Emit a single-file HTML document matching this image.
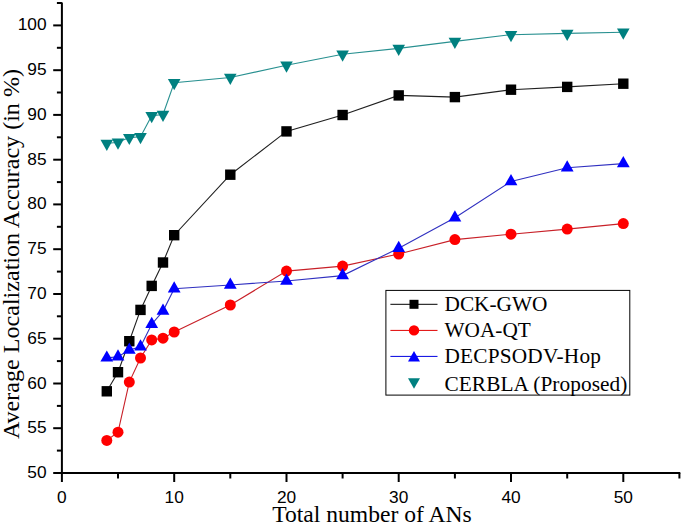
<!DOCTYPE html>
<html lang="en">
<head>
<meta charset="utf-8">
<title>Average Localization Accuracy vs Total number of ANs</title>
<style>
html,body{margin:0;padding:0;background:#ffffff;}
body{width:685px;height:524px;overflow:hidden;}
svg{display:block;}
.tick{font-family:"Liberation Sans",Arial,sans-serif;font-size:17.3px;fill:#000;}
.ttl{font-family:"Liberation Serif","Times New Roman",serif;font-size:23.6px;fill:#000;}
.ttly{font-family:"Liberation Serif","Times New Roman",serif;font-size:24.1px;fill:#000;}
.leg{font-family:"Liberation Serif","Times New Roman",serif;font-size:21.3px;fill:#000;}
</style>
</head>
<body>
<svg width="685" height="524" viewBox="0 0 685 524">
<rect x="0" y="0" width="685" height="524" fill="#ffffff"/>

<g stroke="#000" stroke-width="2" fill="none" stroke-linecap="butt">
<line x1="61.9" y1="2.5" x2="61.9" y2="474.0"/>
<line x1="60.9" y1="473.0" x2="680.3" y2="473.0"/>
<line x1="53.2" y1="473.0" x2="61.9" y2="473.0"/>
<line x1="56.9" y1="450.6" x2="61.9" y2="450.6"/>
<line x1="53.2" y1="428.2" x2="61.9" y2="428.2"/>
<line x1="56.9" y1="405.9" x2="61.9" y2="405.9"/>
<line x1="53.2" y1="383.5" x2="61.9" y2="383.5"/>
<line x1="56.9" y1="361.1" x2="61.9" y2="361.1"/>
<line x1="53.2" y1="338.7" x2="61.9" y2="338.7"/>
<line x1="56.9" y1="316.3" x2="61.9" y2="316.3"/>
<line x1="53.2" y1="294.0" x2="61.9" y2="294.0"/>
<line x1="56.9" y1="271.6" x2="61.9" y2="271.6"/>
<line x1="53.2" y1="249.2" x2="61.9" y2="249.2"/>
<line x1="56.9" y1="226.8" x2="61.9" y2="226.8"/>
<line x1="53.2" y1="204.4" x2="61.9" y2="204.4"/>
<line x1="56.9" y1="182.1" x2="61.9" y2="182.1"/>
<line x1="53.2" y1="159.7" x2="61.9" y2="159.7"/>
<line x1="56.9" y1="137.3" x2="61.9" y2="137.3"/>
<line x1="53.2" y1="114.9" x2="61.9" y2="114.9"/>
<line x1="56.9" y1="92.5" x2="61.9" y2="92.5"/>
<line x1="53.2" y1="70.2" x2="61.9" y2="70.2"/>
<line x1="56.9" y1="47.8" x2="61.9" y2="47.8"/>
<line x1="53.2" y1="25.4" x2="61.9" y2="25.4"/>
<line x1="56.9" y1="3.0" x2="61.9" y2="3.0"/>
<line x1="61.9" y1="473.0" x2="61.9" y2="482.0"/>
<line x1="118.0" y1="473.0" x2="118.0" y2="478.5"/>
<line x1="174.2" y1="473.0" x2="174.2" y2="482.0"/>
<line x1="230.3" y1="473.0" x2="230.3" y2="478.5"/>
<line x1="286.5" y1="473.0" x2="286.5" y2="482.0"/>
<line x1="342.6" y1="473.0" x2="342.6" y2="478.5"/>
<line x1="398.7" y1="473.0" x2="398.7" y2="482.0"/>
<line x1="454.9" y1="473.0" x2="454.9" y2="478.5"/>
<line x1="511.0" y1="473.0" x2="511.0" y2="482.0"/>
<line x1="567.2" y1="473.0" x2="567.2" y2="478.5"/>
<line x1="623.3" y1="473.0" x2="623.3" y2="482.0"/>
<line x1="679.4" y1="473.0" x2="679.4" y2="478.5"/>
</g>
<g class="tick" text-anchor="end">
<text x="46.6" y="478.0">50</text>
<text x="46.6" y="433.2">55</text>
<text x="46.6" y="388.5">60</text>
<text x="46.6" y="343.7">65</text>
<text x="46.6" y="299.0">70</text>
<text x="46.6" y="254.2">75</text>
<text x="46.6" y="209.4">80</text>
<text x="46.6" y="164.7">85</text>
<text x="46.6" y="119.9">90</text>
<text x="46.6" y="75.2">95</text>
<text x="46.6" y="30.4">100</text>
</g>
<g class="tick" text-anchor="middle">
<text x="61.9" y="502.5">0</text>
<text x="174.2" y="502.5">10</text>
<text x="286.5" y="502.5">20</text>
<text x="398.7" y="502.5">30</text>
<text x="511.0" y="502.5">40</text>
<text x="623.3" y="502.5">50</text>
</g>
<text class="ttl" x="272.2" y="522.2">Total number of ANs</text>
<text class="ttly" transform="translate(19.1,439.1) rotate(-90)">Average Localization Accuracy (in %)</text>
<polyline points="106.8,391.3 118.0,372.2 129.3,341.2 140.5,309.9 151.7,285.9 163.0,262.5 174.2,235.2 230.3,174.7 286.5,131.4 342.6,115.0 398.7,95.4 454.9,97.1 511.0,89.7 567.2,86.9 623.3,83.7" fill="none" stroke="#202020" stroke-width="1.1"/>
<polyline points="106.8,440.4 118.0,432.2 129.3,382.1 140.5,358.0 151.7,339.9 163.0,338.2 174.2,332.0 230.3,305.0 286.5,271.1 342.6,266.1 398.7,254.0 454.9,239.6 511.0,234.2 567.2,229.1 623.3,223.6" fill="none" stroke="#c82028" stroke-width="1.1"/>
<polyline points="106.8,357.9 118.0,356.7 129.3,350.0 140.5,346.8 151.7,324.2 163.0,311.1 174.2,288.7 230.3,285.0 286.5,281.0 342.6,275.6 398.7,248.2 454.9,217.8 511.0,181.5 567.2,167.8 623.3,163.6" fill="none" stroke="#3030c0" stroke-width="1.1"/>
<polyline points="106.8,143.5 118.0,142.3 129.3,137.6 140.5,136.8 151.7,115.7 163.0,114.5 174.2,82.7 230.3,77.5 286.5,65.2 342.6,54.3 398.7,48.4 454.9,41.4 511.0,34.7 567.2,33.4 623.3,32.2" fill="none" stroke="#289090" stroke-width="1.1"/>
<rect x="101.6" y="386.1" width="10.4" height="10.4" fill="#000"/>
<rect x="112.8" y="367.0" width="10.4" height="10.4" fill="#000"/>
<rect x="124.1" y="336.0" width="10.4" height="10.4" fill="#000"/>
<rect x="135.3" y="304.7" width="10.4" height="10.4" fill="#000"/>
<rect x="146.5" y="280.7" width="10.4" height="10.4" fill="#000"/>
<rect x="157.8" y="257.3" width="10.4" height="10.4" fill="#000"/>
<rect x="169.0" y="230.0" width="10.4" height="10.4" fill="#000"/>
<rect x="225.1" y="169.5" width="10.4" height="10.4" fill="#000"/>
<rect x="281.3" y="126.2" width="10.4" height="10.4" fill="#000"/>
<rect x="337.4" y="109.8" width="10.4" height="10.4" fill="#000"/>
<rect x="393.5" y="90.2" width="10.4" height="10.4" fill="#000"/>
<rect x="449.7" y="91.9" width="10.4" height="10.4" fill="#000"/>
<rect x="505.8" y="84.5" width="10.4" height="10.4" fill="#000"/>
<rect x="562.0" y="81.7" width="10.4" height="10.4" fill="#000"/>
<rect x="618.1" y="78.5" width="10.4" height="10.4" fill="#000"/>
<circle cx="106.8" cy="440.4" r="5.5" fill="#ff0000"/>
<circle cx="118.0" cy="432.2" r="5.5" fill="#ff0000"/>
<circle cx="129.3" cy="382.1" r="5.5" fill="#ff0000"/>
<circle cx="140.5" cy="358.0" r="5.5" fill="#ff0000"/>
<circle cx="151.7" cy="339.9" r="5.5" fill="#ff0000"/>
<circle cx="163.0" cy="338.2" r="5.5" fill="#ff0000"/>
<circle cx="174.2" cy="332.0" r="5.5" fill="#ff0000"/>
<circle cx="230.3" cy="305.0" r="5.5" fill="#ff0000"/>
<circle cx="286.5" cy="271.1" r="5.5" fill="#ff0000"/>
<circle cx="342.6" cy="266.1" r="5.5" fill="#ff0000"/>
<circle cx="398.7" cy="254.0" r="5.5" fill="#ff0000"/>
<circle cx="454.9" cy="239.6" r="5.5" fill="#ff0000"/>
<circle cx="511.0" cy="234.2" r="5.5" fill="#ff0000"/>
<circle cx="567.2" cy="229.1" r="5.5" fill="#ff0000"/>
<circle cx="623.3" cy="223.6" r="5.5" fill="#ff0000"/>
<polygon points="100.4,361.6 113.2,361.6 106.8,350.4" fill="#0000ff"/>
<polygon points="111.6,360.4 124.4,360.4 118.0,349.2" fill="#0000ff"/>
<polygon points="122.9,353.7 135.7,353.7 129.3,342.5" fill="#0000ff"/>
<polygon points="134.1,350.5 146.9,350.5 140.5,339.3" fill="#0000ff"/>
<polygon points="145.3,327.9 158.1,327.9 151.7,316.7" fill="#0000ff"/>
<polygon points="156.6,314.8 169.4,314.8 163.0,303.6" fill="#0000ff"/>
<polygon points="167.8,292.4 180.6,292.4 174.2,281.2" fill="#0000ff"/>
<polygon points="223.9,288.7 236.7,288.7 230.3,277.5" fill="#0000ff"/>
<polygon points="280.1,284.7 292.9,284.7 286.5,273.5" fill="#0000ff"/>
<polygon points="336.2,279.3 349.0,279.3 342.6,268.1" fill="#0000ff"/>
<polygon points="392.3,251.9 405.1,251.9 398.7,240.7" fill="#0000ff"/>
<polygon points="448.5,221.5 461.3,221.5 454.9,210.3" fill="#0000ff"/>
<polygon points="504.6,185.2 517.4,185.2 511.0,174.0" fill="#0000ff"/>
<polygon points="560.8,171.5 573.6,171.5 567.2,160.3" fill="#0000ff"/>
<polygon points="616.9,167.3 629.7,167.3 623.3,156.1" fill="#0000ff"/>
<polygon points="100.5,139.8 113.1,139.8 106.8,151.0" fill="#008080"/>
<polygon points="111.7,138.6 124.3,138.6 118.0,149.8" fill="#008080"/>
<polygon points="123.0,133.9 135.6,133.9 129.3,145.1" fill="#008080"/>
<polygon points="134.2,133.1 146.8,133.1 140.5,144.3" fill="#008080"/>
<polygon points="145.4,112.0 158.0,112.0 151.7,123.2" fill="#008080"/>
<polygon points="156.7,110.8 169.3,110.8 163.0,122.0" fill="#008080"/>
<polygon points="167.9,79.0 180.5,79.0 174.2,90.2" fill="#008080"/>
<polygon points="224.0,73.8 236.6,73.8 230.3,85.0" fill="#008080"/>
<polygon points="280.2,61.5 292.8,61.5 286.5,72.7" fill="#008080"/>
<polygon points="336.3,50.6 348.9,50.6 342.6,61.8" fill="#008080"/>
<polygon points="392.4,44.7 405.0,44.7 398.7,55.9" fill="#008080"/>
<polygon points="448.6,37.7 461.2,37.7 454.9,48.9" fill="#008080"/>
<polygon points="504.7,31.0 517.3,31.0 511.0,42.2" fill="#008080"/>
<polygon points="560.9,29.7 573.5,29.7 567.2,40.9" fill="#008080"/>
<polygon points="617.0,28.5 629.6,28.5 623.3,39.7" fill="#008080"/>
<rect x="385.9" y="290.4" width="243.9" height="104.7" fill="#fff" stroke="#000" stroke-width="1"/>
<line x1="390.4" y1="304.3" x2="437.5" y2="304.3" stroke="#000" stroke-width="1"/>
<line x1="390.4" y1="330.4" x2="437.5" y2="330.4" stroke="#e00000" stroke-width="1"/>
<line x1="390.4" y1="356.4" x2="437.5" y2="356.4" stroke="#0000e0" stroke-width="1"/>
<rect x="409.5" y="299.8" width="9" height="9" fill="#000"/>
<circle cx="414.0" cy="330.4" r="5.2" fill="#ff0000"/>
<polygon points="408.0,361.6 420.0,361.6 414.0,351.1" fill="#0000ff"/>
<polygon points="408.0,378.2 420.0,378.2 414.0,388.8" fill="#008080"/>
<text class="leg" x="444.5" y="311.3" letter-spacing="0">DCK-GWO</text>
<text class="leg" x="444.5" y="337.4" letter-spacing="0">WOA-QT</text>
<text class="leg" x="444.5" y="363.4" letter-spacing="0.2">DECPSODV-Hop</text>
<text class="leg" x="444.5" y="390.5" letter-spacing="0.08">CERBLA (Proposed)</text>
</svg>
</body>
</html>
